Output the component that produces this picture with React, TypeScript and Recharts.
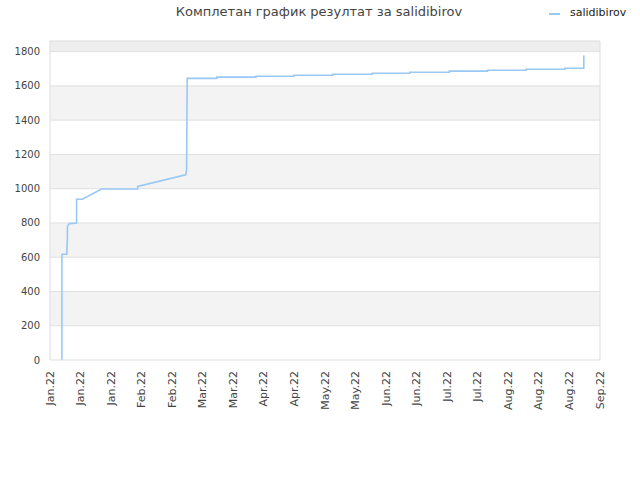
import React from 'react';
import { LineChart, Line, XAxis, YAxis, ReferenceArea, ReferenceLine } from 'recharts';

// x positions are expressed in tick-index units (0 = first "Jan.22" tick, 18 = "Sep.22")
const pointX = [0.39, 0.39, 0.55, 0.57, 0.57, 0.63, 0.87, 0.87, 1.06, 1.69, 2.87, 2.87, 4.44, 4.47, 4.49, 5.46, 5.46, 6.74, 6.74, 7.98, 7.98, 9.25, 9.25, 10.54, 10.54, 11.78, 11.78, 13.07, 13.07, 14.32, 14.32, 15.58, 15.58, 16.85, 16.85, 17.47, 17.47];
const pointValues = [0, 617, 617, 717, 780, 796, 800, 938, 938, 998, 998, 1013, 1081, 1110, 1644, 1644, 1651, 1651, 1656, 1656, 1662, 1662, 1668, 1668, 1674, 1674, 1680, 1680, 1686, 1686, 1691, 1691, 1697, 1697, 1703, 1703, 1777];
const tickLabels = ['Jan.22', 'Jan.22', 'Jan.22', 'Feb.22', 'Feb.22', 'Mar.22', 'Mar.22', 'Apr.22', 'Apr.22', 'May.22', 'May.22', 'Jun.22', 'Jun.22', 'Jul.22', 'Jul.22', 'Aug.22', 'Aug.22', 'Aug.22', 'Sep.22'];
const yTicks = [0, 200, 400, 600, 800, 1000, 1200, 1400, 1600, 1800];
const seriesName = 'salidibirov';
const title = 'Комплетан график резултат за salidibirov';

const data = pointX.map((x, i) => ({ x, value: pointValues[i] }));
const xTicks = tickLabels.map((_, i) => i);
const Y_MAX = 1862;
const FONT = '"DejaVu Sans", sans-serif';

const XTick = (props: any) => {
  const { x, y, payload } = props;
  return (
    <text
      x={x}
      y={y}
      transform={`rotate(-90 ${x} ${y})`}
      textAnchor="end"
      dominantBaseline="central"
      fontSize={11}
      fontFamily={FONT}
      fill="#444"
    >
      {tickLabels[payload.value]}
    </text>
  );
};

export default function App() {
  const bands = [];
  for (let v = 200; v < 1800; v += 400) {
    bands.push(<ReferenceArea key={v} x1={0} x2={18} y1={v} y2={v + 200} fill="#f3f3f3" fillOpacity={1} stroke="none" />);
  }
  return (
    <div style={{ position: 'absolute', left: 0, top: 0, width: 640, height: 480, background: '#fff', fontFamily: FONT }}>
      <div style={{ position: 'absolute', left: 0, top: 4, width: 638, textAlign: 'center', fontSize: 13, color: '#444' }}>
        {title}
      </div>
      <div style={{ position: 'absolute', left: 549, top: 13, width: 11, height: 2, background: '#99c8f5' }} />
      <div style={{ position: 'absolute', left: 570, top: 6, fontSize: 11, color: '#222' }}>{seriesName}</div>
      <LineChart width={640} height={480} data={data} margin={{ top: 41, right: 40, bottom: 60, left: 0 }}>
        <XAxis
          dataKey="x"
          type="number"
          domain={[0, 18]}
          ticks={xTicks}
          interval={0}
          tick={<XTick />}
          tickSize={0}
          tickMargin={11}
          height={60}
          axisLine={{ stroke: '#dddddd' }}
          tickLine={false}
        />
        <YAxis
          type="number"
          domain={[0, Y_MAX]}
          ticks={yTicks}
          interval={0}
          width={50}
          tickSize={0}
          tickMargin={10}
          tickLine={false}
          axisLine={{ stroke: '#dddddd' }}
          tick={{ fontSize: 10, fontFamily: FONT, fill: '#444' }}
          allowDataOverflow
        />
        {bands}
        <ReferenceArea x1={0} x2={18} y1={1800} y2={Y_MAX} fill="#eeeeee" fillOpacity={1} stroke="none" />
        {yTicks.slice(1).map((v) => (
          <ReferenceLine key={v} y={v} stroke="#e0e0e0" strokeWidth={1} />
        ))}
        <ReferenceLine y={Y_MAX} stroke="#dddddd" strokeWidth={1} />
        <ReferenceLine x={18} stroke="#dddddd" strokeWidth={1} />
        <Line
          dataKey="value"
          type="linear"
          stroke="#99c8f5"
          strokeWidth={1.6}
          dot={false}
          isAnimationActive={false}
        />
      </LineChart>
    </div>
  );
}
